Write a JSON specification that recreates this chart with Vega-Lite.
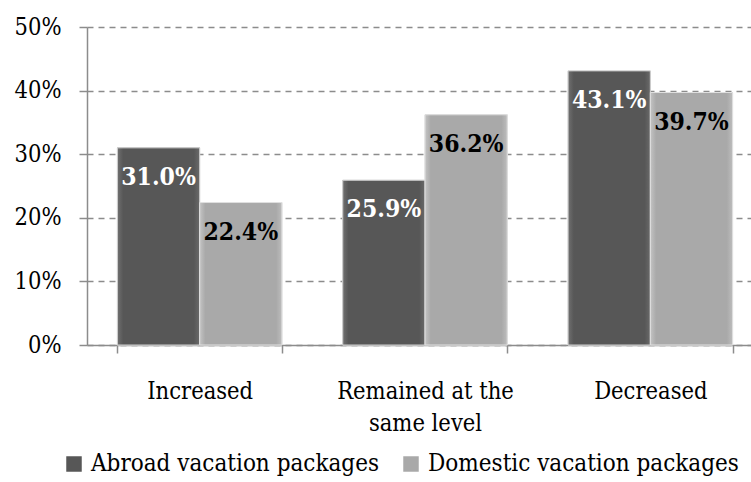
{
  "$schema": "https://vega.github.io/schema/vega-lite/v6.json",
  "autosize": "none",
  "width": 676,
  "height": 318,
  "padding": {"left": 87, "top": 27, "right": 0, "bottom": 137},
  "background": "white",
  "config": {
    "view": {"stroke": null},
    "axis": {"labelColor": "black", "domainColor": "#8c8c8c", "tickColor": "#8c8c8c", "domainWidth": 1.5, "tickWidth": 1.5}
  },
  "data": {
    "values": [
      {"category": "Increased", "series": "Abroad vacation packages", "value": 0.310},
      {"category": "Increased", "series": "Domestic vacation packages", "value": 0.224},
      {"category": "Remained at the same level", "series": "Abroad vacation packages", "value": 0.259},
      {"category": "Remained at the same level", "series": "Domestic vacation packages", "value": 0.362},
      {"category": "Decreased", "series": "Abroad vacation packages", "value": 0.431},
      {"category": "Decreased", "series": "Domestic vacation packages", "value": 0.397}
    ]
  },
  "encoding": {
    "x": {
      "field": "category", "type": "nominal", "sort": null, "title": null,
      "scale": {"paddingInner": 0.27, "paddingOuter": 0.135},
      "axis": {
        "labelFont": "DejaVu Serif Condensed",
        "labelAngle": 0, "labelFontSize": 23.5, "labelPadding": 26, "tickSize": 8,
        "tickBand": "extent", "labelLineHeight": 32, "labelLimit": 300,
        "labelExpr": "datum.value == 'Remained at the same level' ? ['Remained at the', 'same level'] : datum.value"
      }
    },
    "xOffset": {"field": "series", "type": "nominal", "sort": null, "scale": {"paddingInner": 0, "paddingOuter": 0}},
    "y": {
      "field": "value", "type": "quantitative", "title": null,
      "scale": {"domain": [0, 0.5], "nice": false},
      "axis": {
        "labelFont": "DejaVu Serif Condensed",
        "values": [0, 0.1, 0.2, 0.3, 0.4, 0.5], "format": ".0%",
        "labelFontSize": 23.5, "labelPadding": 18, "tickSize": 8,
        "grid": true, "gridColor": "#8c8c8c", "gridDash": [6, 5], "gridWidth": 1.5
      }
    }
  },
  "layer": [
    {
      "mark": {"type": "bar", "stroke": "#d9d9d9", "strokeWidth": 1},
      "encoding": {
        "color": {
          "field": "series", "type": "nominal", "sort": null,
          "scale": {"range": ["#575757", "#a9a9a9"]},
          "legend": {
            "title": null, "orient": "none", "direction": "horizontal",
            "legendX": -25, "legendY": 425,
            "symbolType": "square", "symbolSize": 240, "symbolStrokeWidth": 0,
            "labelFontSize": 24, "labelFont": "DejaVu Serif Condensed", "labelColor": "black",
            "columnPadding": 19, "labelOffset": 5, "labelLimit": 400
          }
        }
      }
    },
    {
      "transform": [{"filter": "datum.series == 'Abroad vacation packages'"}],
      "mark": {
        "type": "bar", "stroke": "#d0d0d0", "strokeWidth": 1,
        "color": {"gradient": "linear", "x1": 0, "y1": 0, "x2": 1, "y2": 0,
          "stops": [{"offset": 0, "color": "#707070"}, {"offset": 0.07, "color": "#575757"}, {"offset": 0.93, "color": "#575757"}, {"offset": 1, "color": "#6a6a6a"}]}
      }
    },
    {
      "transform": [{"filter": "datum.series == 'Domestic vacation packages'"}],
      "mark": {
        "type": "bar", "stroke": "#e0e0e0", "strokeWidth": 1,
        "color": {"gradient": "linear", "x1": 0, "y1": 0, "x2": 1, "y2": 0,
          "stops": [{"offset": 0, "color": "#c4c4c4"}, {"offset": 0.07, "color": "#a9a9a9"}, {"offset": 0.93, "color": "#a9a9a9"}, {"offset": 1, "color": "#bdbdbd"}]}
      }
    },
    {
      "mark": {"type": "text", "font": "DejaVu Serif Condensed", "fontSize": 24.5, "fontWeight": "bold", "baseline": "middle", "dy": 30},
      "encoding": {
        "text": {"field": "value", "type": "quantitative", "format": ".1%"},
        "color": {
          "condition": {"test": "datum.series == 'Abroad vacation packages'", "value": "white"},
          "value": "black"
        }
      }
    }
  ]
}
